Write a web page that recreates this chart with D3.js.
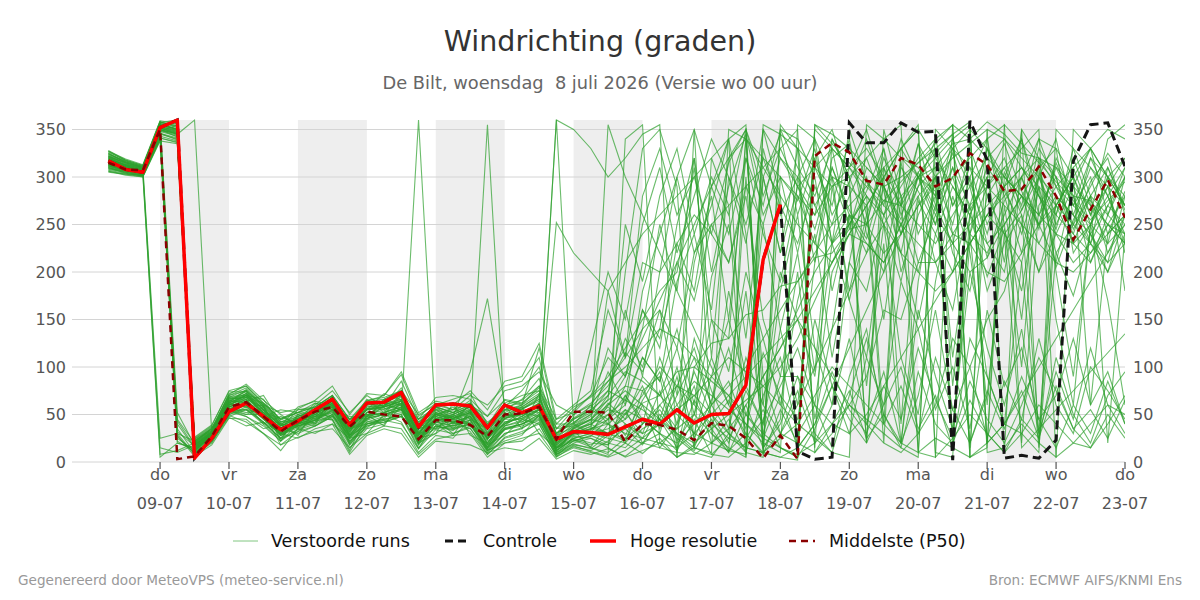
<!DOCTYPE html>
<html>
<head>
<meta charset="utf-8">
<script src="https://cdn.jsdelivr.net/npm/d3@7"></script>
<style>
  body { margin: 0; background: #fff; }
  text { font-family: "DejaVu Sans", sans-serif; }
</style>
</head>
<body>
<svg id="chart" width="1200" height="600"></svg>
<script>
// run starts 8 juli 06 UTC, 6-hourly steps
const runStart = Date.UTC(2026, 6, 8, 6);
const stepHours = 6;

const dayNames = ["do", "vr", "za", "zo", "ma", "di", "wo", "do", "vr", "za", "zo", "ma", "di", "wo", "do"];
const dayDates = ["09-07", "10-07", "11-07", "12-07", "13-07", "14-07", "15-07", "16-07", "17-07", "18-07", "19-07", "20-07", "21-07", "22-07", "23-07"];
const yTicks = [0, 50, 100, 150, 200, 250, 300, 350];

// hoge resolutie (stops at 18-07)
const hres = [317,308,305,352, 360,4,25,53, 62,48,34,43, 55,66,39,62, 63,73,37,60, 61,59,36,60, 52,59,24,32, 31,29,37,45, 40,55,41,50, 51,81,213,271];

// controle run
const control = [317,308,305,352, 360,4,25,53, 62,48,34,43, 55,66,39,62, 63,73,37,60, 61,59,36,60, 52,59,24,32, 31,29,37,45, 40,55,41,50, 51,81,213,271,
  11,3,5,357, 336,336,357,347, 348,2,359,318, 4,7,4,23, 317,355,357,311];

// middelste (P50)
const p50 = [315,308,307,350, 3,6,27,58, 63,48,32,44, 53,58,37,53, 50,48,24,44, 44,39,27,50, 51,58,24,53, 53,52,21,40,
  39,34,23,41, 38,25,4,28, 3,322,336,326, 296,292,320,313, 290,299,325,313, 285,287,311,280, 234,266,297,257];

// verstoorde runs
const members = [
  [320,313,308,15, 10,18,30,62, 70,55,38,45, 52,64,35,58, 60,66,35,50, 45,52,25,50, 48,60,18,30, 35,45,60,110, 85,190,240,160, 320,350,15,45, 300,210,320,335, 260,150,275,305, 325,345,20,70, 240,265,310,205, 255,290,325,300],
  [312,308,304,8, 12,20,25,55, 64,48,30,40, 48,58,28,48, 52,58,22,45, 40,44,15,38, 44,55,12,25, 20,18,40,30, 40,80,120,60, 30,10,5,350, 340,300,180,260, 230,210,250,290, 310,80,240,220, 260,300,340,330, 220,250,300,280],
  [325,315,310,25, 30,22,35,70, 75,58,40,48, 55,68,42,60, 62,72,45,55, 50,58,35,55, 58,70,30,45, 55,70,95,85, 70,50,30,20, 12,8,350,320, 300,270,230,250, 280,40,330,300, 260,230,200,215, 250,100,305,270, 230,210,260,300],
  [305,303,302,5, 20,15,25,48, 55,40,22,35, 42,50,20,40, 45,50,15,38, 35,40,10,30, 35,48,8,18, 15,10,25,40, 55,30,15,8, 5,20,45,80, 120,60,200,240, 230,210,250,280, 300,320,335,350, 10,30,60,40, 20,15,40,70],
  [318,310,306,355, 350,12,28,65, 72,50,33,42, 50,60,38,55, 58,64,30,52, 48,55,28,48, 52,58,25,40, 50,65,80,75, 90,10,100,85, 70,40,20,10, 355,340,300,290, 270,20,320,310, 280,240,230,260, 290,310,280,240, 210,230,270,250],
  [322,315,310,350, 345,20,32,68, 76,60,42,48, 55,66,40,62, 64,70,40,58, 52,60,35,55, 60,72,35,55, 70,90,120,150, 180,200,310,150, 130,340,60,30, 20,350,330,310, 280,260,290,320, 340,355,5,20, 300,280,250,270, 300,330,350,340],
  [314,309,305,352, 358,8,24,58, 66,46,28,38, 45,55,25,42, 48,55,20,42, 38,42,12,35, 40,50,10,22, 28,20,15,35, 45,25,10,5, 30,300,90,120, 160,200,230,260, 250,220,240,270, 290,30,230,200, 190,220,250,280, 260,230,200,240],
  [310,306,303,345, 340,15,30,60, 70,52,36,44, 50,62,32,55, 56,60,28,46, 42,48,20,42, 46,56,20,35, 40,55,50,70, 100,80,60,40, 25,15,10,5, 2,355,345,330, 310,290,300,315, 330,345,358,10, 15,40,20,5, 350,330,300,320],
  [328,318,312,358, 352,25,38,75, 80,62,45,52, 58,70,45,65, 68,75,50,60, 55,62,40,60, 65,80,45,60, 75,160,110,210, 200,230,260,240, 210,280,150,90, 90,60,40,30, 50,80,110,140, 170,200,230,260, 280,300,320,310, 290,270,250,230],
  [316,311,307,348, 355,10,22,52, 60,45,28,36, 44,52,24,44, 50,54,360,40, 36,40,14,34, 40,46,15,25, 30,25,20,40, 60,80,70,50, 30,15,10,25, 40,70,100,80, 60,40,20,10, 5,355,340,320, 300,280,260,240, 230,250,280,310],
  [320,312,306,356, 350,14,26,60, 68,50,34,42, 48,60,30,52, 54,62,26,48, 44,50,355,45, 45,55,15,30, 35,40,55,45, 30,20,40,60, 80,100,130,160, 190,220,250,270, 290,310,330,350, 5,25,50,30, 10,350,320,290, 270,250,230,250],
  [312,307,304,350, 342,18,30,62, 72,56,38,46, 52,64,36,58, 60,68,34,54, 48,95,172,60, 55,66,30,50, 60,85,110,140, 160,120,220,250, 270,290,310,330, 350,10,30,60, 90,160,150,210, 210,240,270,290, 310,330,350,5, 20,40,60,50],
  [318,311,306,353, 348,22,34,66, 74,55,40,46, 52,62,38,56, 58,64,32,50, 46,52,26,48, 50,58,360,40, 30,60,90,130, 170,210,250,290, 320,340,310,280, 250,230,210,240, 270,300,330,350, 320,290,260,230, 250,280,310,330, 300,60,240,260],
  [315,310,305,349, 346,12,26,58, 66,48,30,40, 46,58,28,50, 52,60,24,46, 42,48,18,40, 48,58,252,220, 200,180,210,240, 260,280,300,320, 340,355,10,30, 60,100,140,180, 220,250,280,300, 320,340,355,20, 40,70,100,130, 160,190,220,250],
  [322,314,309,357, 360,16,30,64, 72,54,38,46, 52,64,34,56, 60,66,30,52, 46,54,24,46, 50,62,360,350, 330,300,320,345, 355,5,15,10, 350,340,320,300, 280,260,290,310, 330,300,270,250, 230,260,290,320, 340,310,280,260, 240,220,250,280],
  [308,305,302,343, 338,20,32,56, 62,46,30,38, 44,54,26,46, 50,56,22,44, 40,46,16,38, 42,52,14,28, 32,355,300,260, 220,180,140,100, 60,30,10,5, 15,40,80,120, 160,200,240,270, 300,330,350,20, 40,30,10,350, 330,310,290,270],
  [324,316,310,354, 356,10,24,60, 68,52,34,42, 48,60,32,52, 56,62,28,50, 44,52,26,50, 56,64,22,38, 45,60,75,60, 45,30,20,35, 50,65,80,100, 130,170,210,250, 280,250,220,200, 180,200,230,260, 240,210,15,220, 250,280,260,240],
  [311,307,305,351, 30,8,20,50, 58,42,25,34, 40,50,22,40, 44,50,18,38, 34,40,12,30, 36,44,8,20, 25,15,5,12, 20,35,50,30, 15,5,355,345, 330,310,290,300, 320,340,355,10, 25,15,5,350, 340,320,300,280, 260,240,270,300],
  [319,312,307,355, 25,12,28,62, 70,52,36,44, 50,62,34,55, 58,65,30,50, 46,52,24,46, 50,60,18,32, 40,50,65,55, 40,60,85,70, 55,40,25,15, 8,20,40,60, 45,30,15,5, 350,330,310,290, 270,250,230,210, 200,220,240,260],
  [316,310,306,352, 345,360,30,62, 70,54,38,46, 52,62,36,56, 58,64,30,52, 46,54,24,46, 52,62,20,35, 45,40,30,25, 20,15,30,50, 70,90,110,130, 150,180,210,240, 270,300,330,355, 10,5,350,330, 300,280,260,290, 310,330,300,270],
  [313,308,304,347, 40,15,28,58, 64,48,32,40, 46,56,28,48, 52,58,24,46, 42,48,20,42, 46,56,16,30, 35,30,25,20, 15,10,8,20, 35,60,90,120, 150,120,90,60, 40,20,10,30, 60,130,100,150, 180,250,200,270, 300,260,340,355],
  [321,314,308,356, 45,20,35,70, 78,60,42,50, 56,68,40,60, 62,70,38,56, 50,58,32,54, 56,66,28,45, 55,120,90,160, 130,210,170,250, 210,290,250,320, 290,310,330,310, 290,270,250,230, 210,230,250,270, 290,310,290,270, 250,230,210,230],
  [309,306,303,344, 35,10,22,50, 56,42,24,32, 38,48,18,38, 42,48,14,34, 30,36,8,26, 32,40,6,15, 10,5,12,25, 40,55,70,90, 110,95,80,60, 40,25,10,5, 355,340,320,300, 280,300,320,340, 355,15,35,55, 75,95,115,135],
  [327,317,311,359, 52,18,32,72, 80,62,44,52, 58,70,44,64, 66,74,42,58, 52,60,36,58, 62,75,40,58, 68,85,100,120, 140,130,110,90, 70,50,30,15, 5,355,335,315, 295,275,295,315, 335,355,5,15, 355,335,315,295, 275,255,275,295],
  [314,309,305,350, 20,14,26,56, 62,46,30,38, 44,54,26,46, 50,56,20,42, 38,44,14,36, 40,50,12,25, 30,35,45,62, 70,95,100,125, 130,155,160,185, 190,215,220,245, 250,275,270,300, 310,335,340,358, 345,325,320,300, 280,275,250,240],
  [317,311,306,351, 347,15,29,61, 58,60,22,50, 40,70,45,48, 62,55,40,35, 50,38,30,60, 35,72,10,33, 15,8,340,355, 20,5,350,30, 10,345,15,355, 330,15,340,300, 20,350,280,10, 330,240,15,300, 210,350,20,260, 330,280,20,240],
  [310,304,301,341, 336,22,36,55, 48,35,40,28, 55,45,12,50, 38,66,25,30, 62,28,20,45, 58,30,15,22, 27,45,70,40, 110,60,30,90, 150,80,40,180, 260,120,60,210, 300,250,110,50, 190,280,220,90, 40,210,290,150, 60,250,300,180],
  [323,316,311,358, 353,24,35,71, 82,65,50,38, 60,75,52,70, 58,85,45,68, 70,66,48,75, 80,95,60,50, 62,80,115,95, 140,250,320,200, 290,345,260,300, 220,310,270,340, 240,200,310,285, 250,330,290,215, 275,300,245,320, 280,230,310,265],
  [306,302,300,339, 28,6,18,46, 45,30,12,35, 30,40,8,28, 35,30,5,22, 20,18,10,15, 12,25,3,12, 8,14,6,20, 30,12,45,8, 25,60,15,40, 90,30,10,70, 130,50,20,160, 90,35,200,120, 60,140,30,95, 45,120,60,30],
  [326,318,312,356, 350,18,31,68, 65,48,55,52, 62,58,30,64, 70,92,48,62, 55,70,60,80, 85,110,25,47, 120,200,150,250, 310,220,280,340, 300,250,320,270, 230,290,250,310, 350,290,240,300, 330,270,310,250, 290,340,260,310, 270,320,280,230],
  [313,309,306,349, 344,11,25,57, 50,58,28,42, 38,50,22,36, 48,52,35,40, 28,55,18,38, 52,48,14,31, 37,30,50,80, 35,70,110,60, 180,90,250,140, 60,210,300,170, 250,330,200,260, 300,220,180,280, 240,20,270,300, 230,280,220,260],
  [319,313,308,352, 348,19,31,63, 75,45,30,50, 45,55,48,45, 66,75,22,56, 40,62,42,55, 66,88,28,37, 48,95,60,180, 240,300,350,290, 340,10,330,260, 300,340,230,280, 320,270,340,300, 250,310,270,330, 290,240,300,340, 260,310,280,240],
  [311,306,302,346, 341,13,27,53, 55,52,18,32, 48,44,10,40, 42,48,30,36, 45,32,8,25, 30,42,12,24, 18,30,22,60, 15,40,80,20, 45,10,70,110, 30,60,15,90, 140,40,80,30, 110,55,20,75, 35,90,45,15, 60,30,85,40],
  [324,317,311,354, 351,23,33,67, 68,62,45,55, 58,70,28,52, 66,60,40,48, 58,45,35,62, 70,75,30,42, 52,75,130,100, 160,70,210,280, 150,320,240,190, 280,230,310,260, 220,290,250,200, 270,230,300,340, 250,280,230,270, 300,250,290,220],
  [307,304,301,340, 27,9,21,47, 38,42,30,25, 35,40,25,30, 50,42,10,28, 25,45,12,20, 22,35,8,16, 12,22,35,18, 50,28,12,40, 65,25,55,15, 5,35,80,45, 20,60,100,35, 70,15,130,90, 40,75,25,110, 50,20,70,95],
  [321,315,309,353, 349,17,29,65, 62,48,35,55, 56,58,40,66, 52,72,28,58, 45,60,48,65, 60,120,40,40, 60,40,200,330, 350,290,15,320, 270,5,300,345, 260,320,350,290, 20,310,270,335, 300,250,330,280, 310,270,340,290, 250,320,300,270],
  [315,308,304,348, 343,16,28,59, 72,58,40,36, 50,48,35,44, 60,55,20,52, 35,52,25,40, 48,62,20,30, 38,62,45,90, 70,120,50,150, 95,200,130,60, 170,240,110,210, 180,260,220,150, 240,200,270,180, 230,260,200,240, 280,210,250,230],
  [320,312,307,353, 22,11,27,61, 60,40,48,40, 52,68,26,48, 64,70,35,42, 48,40,15,52, 42,55,22,32, 42,58,40,25, 60,35,95,50, 20,75,40,140, 220,95,290,180, 260,310,240,290, 340,270,300,230, 200,300,250,210, 290,240,210,280],
  [312,307,304,346, 339,21,33,57, 52,55,25,45, 40,62,18,42, 45,48,28,38, 33,50,22,34, 38,45,8,27, 25,18,70,45, 30,90,15,60, 85,35,115,70, 45,150,80,30, 110,60,190,140, 55,100,35,160, 80,120,45,70, 130,60,95,40],
  [325,316,310,357, 354,13,29,69, 70,66,38,58, 64,60,45,55, 72,65,42,60, 66,72,40,58, 75,100,35,46, 58,75,65,110, 85,140,60,195, 250,130,300,220, 290,260,340,300, 250,320,280,210, 260,300,240,330, 280,220,300,260, 320,270,230,300],
  [309,305,302,342, 32,17,29,53, 48,38,22,40, 44,45,15,35, 40,58,20,30, 42,35,12,22, 28,50,10,19, 14,28,52,30, 75,22,50,110, 60,180,30,90, 200,45,140,260, 80,230,20,190, 300,110,240,60, 270,150,320,200, 90,250,170,60],
  [322,315,309,355, 350,21,33,64, 64,70,42,44, 62,55,32,62, 55,62,45,58, 52,65,30,52, 60,80,35,38, 50,180,110,280, 330,260,300,240, 315,350,280,330, 290,245,310,265, 235,300,40,275, 240,290,260,310, 285,250,330,300, 245,280,310,270],
  [316,310,305,350, 345,14,27,59, 58,46,40,38, 42,66,20,46, 50,56,26,35, 38,48,28,40, 55,52,12,33, 40,30,55,20, 45,15,65,35, 10,50,25,70, 15,40,95,55, 30,80,45,120, 65,25,85,45, 20,60,110,75, 35,55,25,65],
  [318,312,307,352, 347,19,31,63, 76,58,30,48, 55,58,40,60, 62,60,24,46, 50,58,35,50, 58,70,18,36, 45,70,160,90, 200,300,220,270, 340,240,10,300, 275,330,230,350, 295,260,315,240, 280,325,265,300, 335,285,250,315, 270,300,240,285],
  [310,305,301,341, 337,24,37,54, 50,50,35,30, 38,48,28,38, 44,40,14,45, 30,38,18,28, 45,40,6,23, 16,40,20,75, 45,100,25,65, 120,50,90,30, 75,20,60,130, 40,95,20,70, 160,55,100,25, 85,45,130,60, 30,100,75,45],
  [327,319,313,359, 356,26,39,74, 74,60,52,56, 65,80,50,72, 70,95,52,64, 60,75,55,85, 90,125,45,52, 70,110,90,160, 120,230,180,290, 240,320,270,350, 310,280,330,245, 310,290,255,335, 270,310,240,290, 320,265,300,250, 290,330,260,310],
  [313,308,303,347, 43,16,26,56, 55,42,25,46, 48,52,35,40, 46,62,18,48, 42,40,16,35, 40,48,16,29, 34,50,28,65, 95,40,130,75, 35,110,60,200, 150,90,230,170, 110,250,190,280, 210,160,260,195, 245,180,290,220, 175,240,200,260],
  [321,313,309,354, 349,12,30,66, 68,52,46,52, 50,62,42,55, 58,78,38,50, 55,62,38,66, 62,78,30,41, 55,45,80,140, 250,180,320,110, 300,230,350,280, 5,320,260,295, 340,285,220,305, 265,340,295,240, 305,260,30,280, 240,295,320,260],
  [306,303,300,338, 335,9,23,49, 42,30,18,26, 32,35,15,30, 38,35,8,24, 28,30,5,20, 25,30,5,17, 11,6,20,9, 25,5,18,45, 12,30,8,55, 20,10,40,75, 25,50,15,95, 40,20,65,30, 10,45,25,80, 35,15,50,25],
  [319,311,306,351, 346,17,28,61, 66,58,28,40, 54,56,38,50, 50,70,32,44, 48,56,30,48, 56,68,22,36, 44,66,250,190, 280,330,240,300, 260,350,300,220, 330,270,300,250, 285,330,260,300, 285,20,260,300, 300,340,280,245, 310,260,290,320]
];

const svg = d3.select("#chart");

// plot area
const plotLeft = 72, plotRight = 1125, plotTop = 120, plotBottom = 462;

const tickDays = dayDates.map((d, i) => new Date(Date.UTC(2026, 6, 9 + i)));
const timeAt = i => new Date(runStart + i * stepHours * 3600 * 1000);

const x = d3.scaleUtc()
    .domain([new Date(Date.UTC(2026, 6, 7, 17, 20)), tickDays[tickDays.length - 1]])
    .range([plotLeft, plotRight]);
const y = d3.scaleLinear().domain([0, 360]).range([plotBottom, plotTop]);

svg.append("defs").append("clipPath").attr("id", "plot-clip")
  .append("rect")
    .attr("x", plotLeft).attr("y", plotTop - 3)
    .attr("width", plotRight - plotLeft).attr("height", plotBottom - plotTop + 6);

// alternating day shading
const shadedDays = tickDays.filter((d, i) => i % 2 === 0 && i < tickDays.length - 1);
svg.append("g").selectAll("rect")
    .data(shadedDays)
    .enter().append("rect")
    .attr("x", d => x(d))
    .attr("y", plotTop)
    .attr("width", d => x(d3.utcDay.offset(d, 1)) - x(d))
    .attr("height", plotBottom - plotTop)
    .attr("fill", "#eeeeee");

// horizontal grid
svg.append("g").selectAll("line")
    .data(yTicks)
    .enter().append("line")
    .attr("x1", plotLeft).attr("x2", plotRight)
    .attr("y1", d => y(d)).attr("y2", d => y(d))
    .attr("stroke", "#d4d4d4").attr("stroke-width", 1);

// y labels, both sides
const yLab = svg.append("g").attr("font-size", 16).attr("fill", "#555");
yTicks.forEach(v => {
  yLab.append("text").attr("x", 66).attr("y", y(v)).attr("dy", "0.35em")
      .attr("text-anchor", "end").text(v);
  yLab.append("text").attr("x", 1133).attr("y", y(v)).attr("dy", "0.35em")
      .attr("text-anchor", "start").text(v);
});

// x ticks
const xt = svg.append("g").attr("font-size", 16).attr("fill", "#555").attr("text-anchor", "middle");
tickDays.forEach((d, i) => {
  xt.append("line").attr("x1", x(d)).attr("x2", x(d))
    .attr("y1", plotBottom).attr("y2", plotBottom + 7)
    .attr("stroke", "#555").attr("stroke-width", 1.2);
  xt.append("text").attr("x", x(d)).attr("y", 480).text(dayNames[i]);
  xt.append("text").attr("x", x(d)).attr("y", 509).text(dayDates[i]);
});

const line = d3.line()
    .x((d, i) => x(timeAt(i)))
    .y(d => y(d));

const lines = svg.append("g").attr("clip-path", "url(#plot-clip)");

// ensemble members
lines.append("g").selectAll("path")
    .data(members)
    .enter().append("path")
    .attr("d", line)
    .attr("fill", "none")
    .attr("stroke", "#2ca02c")
    .attr("stroke-opacity", 0.7)
    .attr("stroke-width", 1.1);

lines.append("path").datum(control)
    .attr("d", line).attr("fill", "none")
    .attr("stroke", "#151515").attr("stroke-width", 3)
    .attr("stroke-dasharray", "9,5");

lines.append("path").datum(hres)
    .attr("d", line).attr("fill", "none")
    .attr("stroke", "#ff0000").attr("stroke-width", 3.5)
    .attr("stroke-linejoin", "round");

lines.append("path").datum(p50)
    .attr("d", line).attr("fill", "none")
    .attr("stroke", "#8b0000").attr("stroke-width", 2.5)
    .attr("stroke-dasharray", "7,5");

// titles
svg.append("text").attr("x", 600).attr("y", 51).attr("text-anchor", "middle")
    .attr("font-size", 28.5).attr("fill", "#333").text("Windrichting (graden)");
svg.append("text").attr("x", 600).attr("y", 89).attr("text-anchor", "middle")
    .attr("font-size", 17.8).attr("fill", "#666").style("white-space", "pre")
    .text("De Bilt, woensdag  8 juli 2026 (Versie wo 00 uur)");

// legend
const legendItems = [
  { label: "Verstoorde runs", x1: 233, x2: 258, tx: 271, color: "#2ca02c", width: 1, opacity: 0.6, dash: null },
  { label: "Controle", x1: 445, x2: 471, tx: 483, color: "#151515", width: 3, opacity: 1, dash: "8,5" },
  { label: "Hoge resolutie", x1: 590, x2: 616, tx: 630, color: "#ff0000", width: 3.5, opacity: 1, dash: null },
  { label: "Middelste (P50)", x1: 789, x2: 815, tx: 829, color: "#8b0000", width: 2.5, opacity: 1, dash: "7,5" }
];
const lg = svg.append("g");
legendItems.forEach(d => {
  lg.append("line").attr("x1", d.x1).attr("x2", d.x2).attr("y1", 541).attr("y2", 541)
    .attr("stroke", d.color).attr("stroke-width", d.width)
    .attr("stroke-opacity", d.opacity)
    .attr("stroke-dasharray", d.dash);
  lg.append("text").attr("x", d.tx).attr("y", 541).attr("dy", "0.35em")
    .attr("font-size", 17.5).attr("fill", "#111").text(d.label);
});

// footer
svg.append("text").attr("x", 18).attr("y", 585).attr("font-size", 13.6)
    .attr("fill", "#999").text("Gegenereerd door MeteoVPS (meteo-service.nl)");
svg.append("text").attr("x", 1182).attr("y", 585).attr("font-size", 13.6)
    .attr("text-anchor", "end").attr("fill", "#999").text("Bron: ECMWF AIFS/KNMI Ens");
</script>
</body>
</html>
